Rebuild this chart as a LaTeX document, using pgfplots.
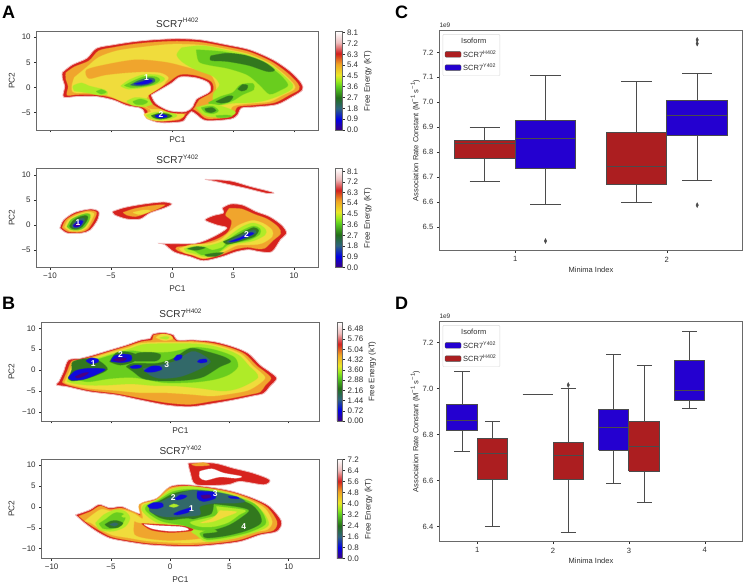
\documentclass[border=0pt]{standalone}
\usepackage{pgfplots}
\usepackage{fontspec}
\setmainfont{Liberation Sans}
\pgfplotsset{compat=1.18}
\definecolor{cP}{RGB}{240,190,190}
\definecolor{cR}{RGB}{215,35,30}
\definecolor{cO}{RGB}{240,165,45}
\definecolor{cY}{RGB}{240,220,60}
\definecolor{cL}{RGB}{175,235,40}
\definecolor{cG}{RGB}{105,205,30}
\definecolor{cD}{RGB}{50,120,30}
\definecolor{cS}{RGB}{50,105,105}
\definecolor{cB}{RGB}{15,10,220}
\definecolor{cI}{RGB}{75,0,130}
\definecolor{txt}{RGB}{45,45,45}
\definecolor{frm}{RGB}{105,105,105}
\definecolor{bxR}{RGB}{172,30,32}
\definecolor{bxB}{RGB}{36,0,208}
\definecolor{bxL}{RGB}{75,75,75}
\pgfplotsset{
 colormap={fe}{rgb255(0)=(60,0,130) rgb255(11)=(0,0,230) rgb255(22)=(45,100,125) rgb255(33)=(35,110,25) rgb255(44)=(90,205,30) rgb255(50)=(160,235,30) rgb255(56)=(235,230,40) rgb255(67)=(240,165,35) rgb255(78)=(210,30,30) rgb255(89)=(238,190,190) rgb255(100)=(255,255,255)},
 mapaxis/.style={scale only axis,axis on top,clip=true,
  axis line style={frm,line width=0.8pt},
  tick style={txt,line width=0.5pt},major tick length=2.5pt,tick align=outside,
  xtick pos=bottom,ytick pos=left,
  xtick={-10,-5,0,5,10},
  ticklabel style={font=\fontsize{8}{9}\selectfont,text=txt},
  title style={font=\fontsize{10}{11}\selectfont,text=txt,yshift=-5pt},
  ylabel={PC2},xlabel={PC1},
  label style={font=\fontsize{8.3}{9}\selectfont,text=txt},
  colormap name=fe,colorbar,point meta min=0,
  colorbar style={at={(parent axis.north east)},anchor=north west,xshift=9pt,width=6.5pt,
   axis line style={frm,line width=0.6pt},tick style={txt,line width=0.5pt},major tick length=2.5pt,
   yticklabel pos=right,ytick pos=right,tick align=outside,xtick=\empty,
   ylabel={Free Energy (kT)},
   ylabel style={font=\fontsize{8}{9}\selectfont,text=txt,anchor=south},
   yticklabel style={font=\fontsize{8}{9}\selectfont,text=txt,xshift=-1pt}},
 },
 boxaxis/.style={scale only axis,axis on top,clip=false,
  axis line style={frm,line width=0.9pt},
  tick style={txt,line width=0.5pt},major tick length=2.5pt,tick align=outside,
  xtick pos=bottom,ytick pos=left,
  ticklabel style={font=\fontsize{7.6}{9}\selectfont,text=txt},
  xlabel={Minima Index},
  ylabel={Association Rate Constant (M\raisebox{3.5pt}{\fontsize{6}{6}\selectfont −1} s\raisebox{3.5pt}{\fontsize{6}{6}\selectfont −1})},
  label style={font=\fontsize{7.5}{9}\selectfont,text=txt},
  ylabel style={at={(axis description cs:-0.052,0.5)},anchor=south},
  xlabel style={at={(axis description cs:0.5,-0.058)},anchor=north},
  yticklabel style={/pgf/number format/fixed,/pgf/number format/fixed zerofill,/pgf/number format/precision=1,/pgf/number format/assume math mode=true},
  xticklabel style={/pgf/number format/assume math mode=true},
  legend style={at={(0.011,0.984)},anchor=north west,draw=black!15,fill=white,rounded corners=1pt,
   font=\fontsize{7.5}{8}\selectfont,text=txt,row sep=1pt,inner sep=2pt},
  legend cell align=left,
  legend image code/.code={\draw[##1] (0pt,-2.8pt) rectangle (16pt,2.8pt);},
 },
 bxl/.style={forget plot,draw=bxL,line width=1pt,mark=none},
 bxo/.style={forget plot,only marks,mark=diamond*,mark size=2pt,mark options={fill=bxL,draw=bxL,xscale=0.8,yscale=1.2}},
}
\newcommand\SCR[3]{SCR7\raisebox{#3}{\fontsize{#2}{#2}\selectfont #1}}
\newcommand{\lev}[2]{\addplot[fill=#1,draw=#1,draw opacity=0.45,line width=1pt,smooth,mark=none,forget plot] coordinates {#2};}
\newcommand{\edge}[2]{\addplot[fill=#1,draw=cP,line width=0.8pt,smooth,mark=none,forget plot] coordinates {#2};}
\newcommand{\num}[3]{\node[text=white,font=\bfseries\fontsize{8.5}{9}\selectfont,inner sep=0pt] at (axis cs:#1,#2) {#3};}
% box position: left, centre, right, cap left, cap right
\newcommand{\bxat}[5]{\def\bxa{#1}\def\bxb{#2}\def\bxc{#3}\def\bxd{#4}\def\bxe{#5}}
% box values: colour, lower whisker, q1, median, q3, upper whisker
\newcommand{\bxv}[6]{%
 \addplot[bxl] coordinates {(\bxb,#2) (\bxb,#3)};
 \addplot[bxl] coordinates {(\bxb,#5) (\bxb,#6)};
 \addplot[bxl] coordinates {(\bxd,#2) (\bxe,#2)};
 \addplot[bxl] coordinates {(\bxd,#6) (\bxe,#6)};
 \addplot[bxl,fill=#1] coordinates {(\bxa,#3) (\bxc,#3) (\bxc,#5) (\bxa,#5) (\bxa,#3)};
 \addplot[bxl] coordinates {(\bxa,#4) (\bxc,#4)};
}
\begin{document}
\begin{tikzpicture}
\path[use as bounding box] (0,0) rectangle (744pt,583pt);
\node[anchor=base west,font=\bfseries\fontsize{18}{18}\selectfont,inner sep=0pt] at (2pt,564pt) {A};
\node[anchor=base west,font=\bfseries\fontsize{18}{18}\selectfont,inner sep=0pt] at (2pt,273pt) {B};
\node[anchor=base west,font=\bfseries\fontsize{18}{18}\selectfont,inner sep=0pt] at (395pt,564pt) {C};
\node[anchor=base west,font=\bfseries\fontsize{18}{18}\selectfont,inner sep=0pt] at (395pt,273pt) {D};
%% A1
\begin{axis}[mapaxis,at={(36.7pt,453pt)},anchor=south west,width=281.3pt,height=98.3pt,
 xmin=-11.09,xmax=11.97,ymin=-8.45,ymax=11.1,ytick={-5,0,5,10},yticklabels={−5,0,5,10},
 xticklabels={},title={\SCR{H402}{6.5}{4.5pt}},
 xlabel style={at={(axis description cs:0.5,-0.035)},anchor=north},
 ylabel style={at={(axis description cs:-0.066,0.5)},anchor=south},
 point meta max=8.18,
 colorbar style={ylabel style={at={(axis description cs:6.1,0.5)}},ytick={0,0.9,1.8,2.7,3.6,4.5,5.4,6.3,7.2,8.1},yticklabels={0.0,0.9,1.8,2.7,3.6,4.5,5.4,6.3,7.2,8.1}}]
\edge{cR}{(-9.0,3.0) (-8.2,4.5) (-7.0,5.8) (-6.2,7.8) (-4.8,8.5) (-3.2,9.1) (-1.5,9.5) (0.4,9.7) (2.3,9.5) (4.5,8.5) (6.4,7.5) (8.3,5.5) (9.7,3.2) (10.6,0.9) (10.7,-0.5) (9.9,-1.8) (8.6,-3.4) (6.7,-3.9) (5.7,-4.1) (5.4,-5.4) (4.8,-6.3) (2.8,-6.6) (2.0,-5.4) (1.6,-4.8) (1.2,-5.8) (0.8,-6.8) (-1.0,-7.0) (-2.1,-6.1) (-2.3,-4.8) (-2.6,-4.1) (-3.7,-3.6) (-4.8,-2.5) (-6.2,-1.8) (-7.8,-1.8) (-8.9,-1.9) (-8.8,0.2) (-9.0,1.9) (-9.0,3.0)}
\lev{cO}{(-8.7,2.9) (-8.0,4.1) (-6.8,5.3) (-6.0,7.3) (-4.7,8.0) (-3.2,8.6) (-1.5,9.0) (0.4,9.2) (2.3,9.0) (4.4,8.1) (6.3,7.1) (8.1,5.2) (9.4,3.0) (10.3,0.8) (10.4,-0.4) (9.6,-1.5) (8.4,-3.0) (6.6,-3.5) (5.4,-3.8) (5.1,-5.1) (4.6,-5.9) (2.9,-6.2) (2.2,-5.0) (1.6,-4.2) (1.0,-5.5) (0.6,-6.4) (-1.0,-6.6) (-1.9,-5.8) (-2.0,-4.6) (-2.6,-3.7) (-3.7,-3.2) (-4.8,-2.1) (-6.2,-1.4) (-7.8,-1.4) (-8.6,-1.5) (-8.5,0.2) (-8.7,1.7) (-8.7,2.9)}
\lev{cY}{(-8,2) (-7,4) (-6,6) (-4.5,7.3) (-2.5,8) (0,8.6) (2.5,8.4) (4.5,7.6) (6.3,6.6) (8,4.8) (9.2,2.6) (10,0.6) (10,-0.4) (9,-1.6) (8,-2.8) (6.2,-3.2) (5,-3.7) (4.7,-5) (4.2,-5.6) (3,-5.8) (2.4,-4.8) (2.5,-3.5) (1.5,-4) (0.5,-5) (0.4,-6.1) (-1,-6.3) (-1.7,-5.6) (-1.8,-4.3) (-2.8,-3.3) (-4,-2.8) (-5,-1.8) (-6.2,-1) (-8,-1) (-8.2,0.3) (-8,2)}
\lev{cO}{(-5.5,4.5) (-3,5.5) (-0.5,5) (1.5,3.8) (3,2.8) (3.5,1) (3.6,-1) (3.2,-3) (2.3,-4.2) (1.5,-3.8) (-1.8,-4.2) (-2,-2.0) (-0.5,1) (-1.8,3) (-3.5,3) (-5.5,2.5) (-6.8,1.8) (-7,3.5) (-5.5,4.5)}
\lev{cL}{(0.8,7.9) (2.5,8.3) (4.5,7.4) (6.3,6.4) (8,4.6) (9.1,2.5) (9.9,0.5) (9.7,-0.5) (8.8,-1.6) (7.6,-2.6) (6.4,-3) (5,-3.1) (4,-3.5) (3.4,-2.8) (3.4,-1.2) (3.9,0.5) (3.4,2.2) (2,3.5) (0.9,5) (0.4,6.5) (0.8,7.9)}
\lev{cG}{(2,7.5) (4.2,7.1) (6.2,6) (7.9,4.2) (8.9,2.4) (9.5,0.5) (8.9,-0.5) (8,-1.3) (7.2,0.5) (6.2,2.5) (4.6,3.8) (3,4.5) (2.2,5.2) (2,7.5)}
\lev{cD}{(3.2,6.3) (4.5,6.8) (6,6.4) (7.5,5.1) (8.4,3.5) (7.8,3.2) (6.3,4.4) (4.5,5.2) (3.2,5.4) (3.2,6.3)}
\lev{cG}{(3.0,-3.0) (4.0,-1.8) (5,-1.0) (5.6,0.5) (6.6,0.8) (6.7,-0.4) (5.8,-1.4) (5.0,-2.6) (4,-3.4) (3.2,-3.6) (3.0,-3.0)}
\lev{cD}{(3.6,-2.8) (4.6,-1.7) (5,-1.8) (4.7,-2.8) (4,-3.1) (3.6,-2.8)}
\lev{cD}{(5.4,-0.3) (5.8,0.6) (6.2,0.4) (6.1,-0.4) (5.7,-0.7) (5.4,-0.3)}
\lev{cL}{(2.0,-4.0) (3.2,-3.3) (4.4,-4) (5.2,-4.9) (4.7,-5.8) (3.5,-5.9) (2.6,-5.4) (2.0,-4.0)}
\lev{cG}{(2.4,-4.0) (3.3,-3.7) (3.8,-4.6) (3.4,-5.2) (2.7,-4.9) (2.4,-4.0)}
\lev{cD}{(2.7,-4.2) (3.3,-4.0) (3.6,-4.6) (3.2,-5.0) (2.8,-4.7) (2.7,-4.2)}
\lev{cG}{(3.6,-5.6) (4.5,-5.5) (4.9,-5.7) (4.3,-6) (3.7,-5.9) (3.6,-5.6)}
\lev{cL}{(-8,-0.7) (-8.1,0.3) (-7.4,0.9) (-6.8,0.3) (-5.5,-0.5) (-5.3,-1.3) (-6,-1.5) (-7,-1.0) (-8,-0.7)}
\lev{cG}{(-6.2,-0.8) (-5.8,-0.4) (-5.4,-0.9) (-5.8,-1.3) (-6.2,-0.8)}
\lev{cL}{(-3.7,-2.7) (-3,-2.0) (-2,-2.3) (-1.6,-3.2) (-2.3,-3.8) (-3.3,-3.5) (-3.7,-2.7)}
\lev{cG}{(-3.2,-2.8) (-2.6,-2.3) (-2,-2.8) (-2.4,-3.4) (-3,-3.3) (-3.2,-2.8)}
\lev{cY}{(-4.6,0.2) (-3.8,1.8) (-2.5,2.9) (-1,2.9) (-0.3,1.9) (-0.9,0.6) (-2.4,-0.4) (-3.8,-0.6) (-4.6,0.2)}
\lev{cL}{(-4.2,0.3) (-3.5,1.5) (-2.4,2.5) (-1.2,2.5) (-0.6,1.7) (-1.2,0.7) (-2.5,-0.1) (-3.6,-0.3) (-4.2,0.3)}
\lev{cG}{(-3.9,0.4) (-3.1,1.4) (-2.2,2.2) (-1.3,2.1) (-1,1.5) (-1.5,0.6) (-2.6,0.1) (-3.4,0) (-3.9,0.4)}
\lev{cS}{(-3.4,0.5) (-2.8,1.3) (-2,1.9) (-1.5,1.8) (-1.4,1.2) (-1.9,0.6) (-2.7,0.3) (-3.4,0.5)}
\lev{cB}{(-3.1,0.7) (-2.4,1.2) (-1.9,1.6) (-1.6,1.3) (-2,0.8) (-2.6,0.6) (-3.1,0.7)}
\lev{cY}{(-2.3,-5.3) (-1.6,-4.8) (-0.5,-4.7) (0.6,-4.8) (1.0,-5.6) (0.4,-6.3) (-1,-6.7) (-2,-6.2) (-2.3,-5.3)}
\lev{cL}{(-2.1,-5.5) (-1.3,-4.9) (-0.1,-5) (0.4,-5.6) (-0.1,-6.2) (-1,-6.5) (-1.8,-6.1) (-2.1,-5.5)}
\lev{cD}{(-1.7,-5.6) (-1,-5.1) (-0.3,-5.3) (0,-5.7) (-0.4,-6.1) (-1,-6.3) (-1.5,-6) (-1.7,-5.6)}
\lev{cB}{(-1.4,-5.6) (-0.9,-5.3) (-0.5,-5.5) (-0.4,-5.8) (-0.9,-6.1) (-1.3,-5.9) (-1.4,-5.6)}
\lev{cR}{(-1.9,-1.6) (-0.9,-0.1) (-0.2,1.1) (0.7,2.5) (2,2.3) (3.2,1.1) (3.3,-0.8) (2.2,-2.4) (1.8,-4) (1.1,-5.1) (-0.2,-4.9) (-1.5,-3.4) (-1.9,-1.6)}
\edge{white}{(-1.7,-1.5) (-0.7,-0.1) (0,0.9) (0.7,2.1) (2,1.9) (3,0.9) (3.1,-0.8) (2,-2.3) (1.7,-3.8) (1.1,-4.8) (-0.2,-4.6) (-1.3,-3.2) (-1.7,-1.5)}
\num{-2.1}{2.0}{1}\num{-0.9}{-5.3}{2}
\end{axis}
%% A2
\begin{axis}[mapaxis,at={(36.7pt,315.7pt)},anchor=south west,width=281.3pt,height=99pt,
 xmin=-11.09,xmax=11.97,ymin=-8.4,ymax=11.3,ytick={-5,0,5,10},yticklabels={−5,0,5,10},
 xticklabels={−10,−5,0,5,10},title={\SCR{Y402}{6.5}{4.5pt}},
 ylabel style={at={(axis description cs:-0.066,0.5)},anchor=south},
 point meta max=8.35,
 colorbar style={ylabel style={at={(axis description cs:6.1,0.5)}},ytick={0,0.9,1.8,2.7,3.6,4.5,5.4,6.3,7.2,8.1},yticklabels={0.0,0.9,1.8,2.7,3.6,4.5,5.4,6.3,7.2,8.1}}]
\edge{cR}{(-9.2,-0.6) (-8.9,1.0) (-8,2.5) (-6.7,3.2) (-6,2.7) (-6.1,1.0) (-6.7,-1) (-7.4,-1.6) (-8.6,-1.6) (-9.2,-0.6)}
\lev{cO}{(-9,-0.5) (-8.7,1) (-7.9,2.2) (-6.8,2.9) (-6.2,2.5) (-6.4,1) (-6.9,-0.8) (-7.5,-1.4) (-8.5,-1.3) (-9,-0.5)}
\lev{cY}{(-8.8,-0.4) (-8.5,1) (-7.8,2) (-6.9,2.6) (-6.4,2.3) (-6.6,1) (-7,-0.6) (-7.6,-1.2) (-8.4,-1.1) (-8.8,-0.4)}
\lev{cG}{(-8.6,-0.3) (-8.3,1) (-7.7,1.8) (-7,2.3) (-6.7,2) (-6.8,0.9) (-7.2,-0.5) (-7.7,-1) (-8.3,-0.9) (-8.6,-0.3)}
\lev{cD}{(-8.4,-0.2) (-8.1,0.9) (-7.6,1.6) (-7.1,1.9) (-6.9,1.6) (-7,0.8) (-7.4,-0.4) (-7.8,-0.8) (-8.2,-0.7) (-8.4,-0.2)}
\lev{cS}{(-8.2,-0.1) (-7.9,0.8) (-7.5,1.3) (-7.2,1.3) (-7.2,0.6) (-7.5,-0.3) (-7.8,-0.6) (-8.1,-0.5) (-8.2,-0.1)}
\lev{cB}{(-8.1,-0.1) (-7.8,0.6) (-7.5,0.9) (-7.3,0.7) (-7.5,-0.1) (-7.8,-0.4) (-8,-0.4) (-8.1,-0.1)}
\lev{cI}{(-8,-0.1) (-7.8,0.3) (-7.6,0.2) (-7.7,-0.2) (-8,-0.1)}
\edge{cR}{(-4.9,2.7) (-3.9,3.5) (-2.3,4.2) (-0.7,4.6) (0,4.2) (-0.6,3.4) (-1.8,2.4) (-2.6,1.2) (-3.7,1.2) (-4.7,2) (-4.9,2.7)}
\lev{cO}{(-4,2.5) (-3,3.3) (-1.5,3.9) (-0.6,4) (-1.3,3.1) (-2.3,2.2) (-3,1.7) (-3.7,2) (-4,2.5)}
\lev{cY}{(-3.2,2.5) (-2.3,3) (-1.8,2.8) (-2.6,2.1) (-3.2,2.5)}
\edge{cR}{(2.7,9.1) (3.9,9) (5,8.7) (6.4,7.7) (8.3,6.5) (7.8,6.3) (6.1,7.3) (4.8,8) (3.9,8.5) (2.7,9.1)}
\edge{cR}{(4.1,3.4) (4.8,4.2) (5.8,4.0) (6.9,2.7) (8,1.7) (9,0) (9.4,-1.6) (8.9,-2.9) (8.2,-5.3) (7.2,-5.3) (6.3,-4.9) (5.3,-5.3) (4.1,-6.3) (2.6,-7.1) (1.5,-6.3) (0.2,-5.4) (-0.6,-3.9) (-1.1,-3.6) (0.1,-3.7) (2,-3.6) (3.4,-2.3) (4.5,-0.6) (3.7,0) (2.7,1) (3.4,1.9) (4.2,2.4) (4.1,3.4)}
\lev{cO}{(4.7,3.3) (5.7,3.2) (6.8,2.1) (7.8,1.2) (8.7,-0.4) (8.9,-1.7) (8.3,-3) (7.6,-4.6) (7,-4.7) (6.2,-4.4) (5.2,-4.8) (4,-5.9) (2.6,-6.7) (1.6,-5.9) (0.5,-5.1) (0.4,-4.4) (2,-4) (3.6,-2.9) (4.6,-1.4) (4.9,0.8) (4.4,2) (4.7,3.3)}
\lev{cY}{(0.6,-4.7) (1.6,-3.9) (3,-3.7) (4,-2.9) (4.7,-1.4) (5.5,0) (6.6,0.9) (7.5,0.3) (8.2,-1) (8.2,-2.3) (7.4,-3.6) (6.6,-3.9) (5.4,-4) (4.5,-5) (3.6,-6) (2.6,-6.6) (1.8,-6) (1,-5.5) (0.6,-4.7)}
\lev{cL}{(1,-4.7) (1.8,-4.2) (3,-4.1) (4.1,-3.3) (5,-1.6) (5.8,-0.3) (6.6,0.4) (7.3,-0.1) (7.7,-1) (7.6,-2) (6.7,-3.1) (5.6,-3.6) (4.8,-4) (4,-5.3) (3.4,-6.1) (2.6,-6.3) (1.9,-5.7) (1.2,-5.3) (1,-4.7)}
\lev{cG}{(1.2,-4.7) (2,-4.4) (2.8,-4.5) (3.3,-5) (4.2,-4.4) (4.5,-3.3) (5.2,-1.9) (6,-0.8) (6.7,-0.2) (7.2,-0.7) (7.2,-1.8) (6.4,-2.9) (5.4,-3.4) (4.7,-3.7) (3.8,-5.4) (3.2,-5.9) (2.4,-5.9) (1.9,-5.2) (1.2,-4.7)}
\lev{cD}{(1.3,-4.7) (2,-4.3) (2.7,-4.5) (2,-5) (1.3,-4.7)}
\lev{cD}{(2.7,-5.9) (3.4,-5.6) (4.2,-5.5) (3.6,-6.2) (2.9,-6.2) (2.7,-5.9)}
\lev{cD}{(4.2,-3.3) (5.3,-2.1) (6.1,-1.1) (6.7,-0.5) (7.1,-1) (6.8,-2.2) (6,-2.9) (5,-3.6) (4.5,-3.8) (4.2,-3.3)}
\lev{cS}{(4.5,-3.3) (5.4,-2.3) (6.2,-1.4) (6.7,-1) (6.9,-1.5) (6.1,-2.5) (5.1,-3.3) (4.7,-3.5) (4.5,-3.3)}
\lev{cB}{(4.7,-3.3) (5.6,-2.5) (6.4,-1.5) (6.7,-1.7) (6.1,-2.4) (5.2,-3.2) (4.7,-3.3)}
\num{-7.7}{0.5}{1}\num{6.1}{-1.8}{2}
\end{axis}
%% B1
\begin{axis}[mapaxis,at={(41.7pt,162pt)},anchor=south west,width=277.6pt,height=98.7pt,
 xmin=-10.84,xmax=12.58,ymin=-12.2,ymax=11.44,ytick={-10,-5,0,5,10},yticklabels={−10,−5,0,5,10},
 xticklabels={},title={\SCR{H402}{6.5}{4.5pt}},
 xlabel style={at={(axis description cs:0.5,-0.035)},anchor=north},
 ylabel style={at={(axis description cs:-0.085,0.5)},anchor=south},
 point meta max=6.95,
 colorbar style={width=5.8pt,ylabel style={at={(axis description cs:7.35,0.5)}},ytick={0,0.72,1.44,2.16,2.88,3.6,4.32,5.04,5.76,6.48},yticklabels={0.00,0.72,1.44,2.16,2.88,3.60,4.32,5.04,5.76,6.48}}]
\edge{cR}{(-9.4,-2.8) (-9.0,-0.4) (-8.6,2.4) (-7.6,2.8) (-6.5,3.6) (-5.1,4.8) (-3.7,6) (-2.5,7.2) (-1.7,7.6) (-1.5,8.6) (-0.6,9) (0.3,8.4) (0.6,7.2) (2,7.2) (3.7,6.8) (5.3,5.6) (6.6,4) (7.6,1.2) (8.4,-0.4) (9,-2) (8.4,-4) (7.9,-5.6) (7,-6.2) (5.3,-7.2) (3.7,-8) (1.7,-8.8) (-0.3,-8.4) (-2.5,-7.2) (-4.5,-6) (-6.8,-5.2) (-8.7,-4) (-9.6,-3.6) (-9.4,-2.8)}
\lev{cO}{(-9.1,-2.9) (-8.7,-0.4) (-8.3,2.1) (-7.5,2.5) (-6.4,3.3) (-5,4.5) (-3.6,5.7) (-2.4,6.8) (-1.5,7.2) (-1.4,8.3) (-0.6,8.6) (0.1,8.1) (0.5,6.9) (2,6.9) (3.6,6.4) (5.1,5.3) (6.3,3.8) (7.3,1) (8,-0.5) (8.5,-2) (8,-3.7) (7.6,-5.2) (6.8,-5.8) (5.2,-6.7) (3.6,-7.4) (1.7,-8.2) (-0.3,-7.8) (-2.5,-6.7) (-4.5,-5.6) (-6.8,-4.8) (-8.6,-3.6) (-9.1,-2.9)}
\lev{cY}{(-8.9,-2.9) (-8.5,-0.4) (-8.1,1.9) (-7.4,2.3) (-6.3,3.1) (-4.9,4.3) (-3.5,5.4) (-2.2,6.5) (1.9,6.6) (3.6,6.1) (5,5) (6.1,3.6) (7,0.9) (7.6,-0.5) (8,-1.9) (7.4,-3.5) (6.5,-4.9) (5,-5.7) (3.5,-6.2) (1.7,-5.8) (-0.5,-5.4) (-2.5,-5.4) (-4.5,-4.9) (-6.8,-4.4) (-8.5,-3.4) (-8.9,-2.9)}
\lev{cL}{(-8.7,-2.7) (-8.3,-0.4) (-7.9,1.7) (-7.3,2) (-6.2,2.8) (-4.8,4) (-3.4,5.1) (-2,6.2) (1.8,6.3) (3.5,5.8) (4.9,4.7) (5.9,3.3) (6.7,0.8) (7.2,-0.5) (7.4,-1.8) (6.6,-3.3) (5.6,-4.5) (4.4,-5) (2.4,-4.3) (0.5,-3.8) (-1.4,-3.7) (-3.3,-3.3) (-5.4,-3.6) (-7,-3.6) (-8.3,-3.1) (-8.7,-2.7)}
\lev{cG}{(-8.2,-1.8) (-8,-0.3) (-7.6,1.6) (-6.2,2.5) (-4.8,3.7) (-3.4,4.6) (-2,4.2) (0,4.3) (2,5.4) (3.5,5) (4.8,3.9) (5.5,2.8) (5.7,0.8) (5,-1) (3.8,-2.2) (2,-2.9) (-0.5,-3.0) (-3,-1.8) (-5,-2) (-7,-2.8) (-8.2,-1.8)}
\lev{cY}{(-1.2,7.8) (-0.7,8.6) (0,8.3) (0.2,7.5) (-0.5,7.1) (-1.2,7.8)}
\lev{cL}{(-0.9,7.7) (-0.5,8) (-0.1,7.9) (-0.3,7.4) (-0.9,7.7)}
\lev{cD}{(-3.7,0.8) (-3.1,1.6) (-1.1,1.6) (0.3,2.8) (1.7,5.2) (3.1,4.4) (4.5,3.2) (5.1,2) (4.2,0.8) (2.8,-1.6) (1.4,-2.4) (-0.8,-2.6) (-2.3,-2) (-3.1,-0.4) (-3.7,0.8)}
\lev{cD}{(-3.2,2.2) (-2.8,4) (-1.5,4.2) (-0.8,3.6) (-1.2,2.2) (-3.2,2.2)}
\lev{cS}{(-2.3,0.4) (-0.8,1.2) (0.3,2) (0.8,2.8) (1.8,4.4) (2.5,4) (3.4,2) (2.3,0) (0.8,-1.6) (-0.8,-2) (-1.7,-1.2) (-2.3,0.4)}
\lev{cB}{(-3.4,0.8) (-2.9,1.2) (-2.4,1) (-2.6,0.5) (-3.2,0.4) (-3.4,0.8)}
\lev{cB}{(-2.2,-0.2) (-1.6,0.9) (-0.9,0.9) (-0.7,0.2) (-1.3,-0.4) (-1.9,-0.5) (-2.2,-0.2)}
\lev{cB}{(0.3,2.6) (0.6,3.6) (1,3.5) (0.9,2.7) (0.5,2.3) (0.3,2.6)}
\lev{cB}{(2.3,2.0) (2.5,2.5) (3,2.6) (3.1,2) (2.6,1.7) (2.3,2.0)}
\lev{cD}{(-8.6,-2) (-8.3,0) (-8.2,2) (-6.8,2.8) (-5.9,2) (-5.3,0.2) (-6.2,-1.2) (-7.3,-2.2) (-8.3,-2.6) (-8.6,-2)}
\lev{cB}{(-8.6,-1.8) (-8,-0.2) (-6.9,0.4) (-5.5,0.2) (-6.2,-1) (-7.3,-2.2) (-8.3,-2.4) (-8.6,-1.8)}
\lev{cI}{(-8,-1.6) (-7.4,-0.8) (-6.9,-0.6) (-7.2,-1.3) (-7.8,-1.9) (-8,-1.6)}
\lev{cB}{(-7.1,2.2) (-6.7,2.9) (-6.1,2.6) (-6.1,1.9) (-6.7,1.5) (-7.1,2.2)}
\lev{cD}{(-5.1,2) (-4.6,4) (-3.8,4.4) (-2.8,3.6) (-3.1,2) (-4.2,1.2) (-5.1,2)}
\lev{cB}{(-5.0,2.1) (-4.7,3.4) (-3.9,3.8) (-3.3,3.5) (-3.3,2.3) (-4.1,1.8) (-5.0,2.1)}
\lev{cI}{(-4.8,2.4) (-4.4,2.9) (-3.7,2.8) (-3.9,2.2) (-4.4,2.1) (-4.8,2.4)}
\num{-6.5}{1.5}{1}\num{-4.2}{3.6}{2}\num{-0.3}{1.2}{3}
\end{axis}
%% B2
\begin{axis}[mapaxis,at={(41.7pt,24.7pt)},anchor=south west,width=277.6pt,height=99pt,
 xmin=-10.84,xmax=12.58,ymin=-12.3,ymax=11.4,ytick={-10,-5,0,5,10},yticklabels={−10,−5,0,5,10},
 xticklabels={−10,−5,0,5,10},title={\SCR{Y402}{6.5}{4.5pt}},
 ylabel style={at={(axis description cs:-0.085,0.5)},anchor=south},
 point meta max=7.2,
 colorbar style={width=5.8pt,ylabel style={at={(axis description cs:6.7,0.5)}},ytick={0,0.8,1.6,2.4,3.2,4,4.8,5.6,6.4,7.2},yticklabels={0.0,0.8,1.6,2.4,3.2,4.0,4.8,5.6,6.4,7.2}}]
\edge{cR}{(1.5,10.5) (3.7,10.5) (5.3,9.3) (7,8.1) (8.4,6.5) (7.9,5.3) (5.9,6.1) (4.8,5.3) (2.2,5.3) (1.7,8.1) (1.5,10.5)}
\lev{white}{(2.5,8.5) (3.5,9.1) (4.5,8.1) (6,7.3) (5.5,6.9) (4.2,7.2) (3,6.4) (2.5,7.1) (2.5,8.5)}
\lev{cO}{(1.8,10.2) (2.8,10.6) (3.3,10) (2.2,9.8) (1.8,10.2)}
\edge{cR}{(-8,-1.9) (-6.8,-0.7) (-6,0.6) (-5.1,-0.2) (-4.1,0.1) (-3.2,-1) (-2.5,-1.5) (-2.4,0.9) (-1.1,2.1) (0,4.9) (1.4,5.3) (3.7,4.6) (5.3,3.7) (7,2.1) (8.4,0.1) (9.4,-3.5) (9,-5.9) (7.6,-6.7) (5.9,-8.3) (3.7,-9.1) (1.4,-9.5) (-1.7,-9.1) (-3.7,-8.3) (-5.1,-7.5) (-6.2,-5.9) (-7.2,-3.9) (-8,-1.9)}
\lev{cO}{(-7.7,-2.2) (-6.7,-1.1) (-5.9,0.2) (-5.1,-0.6) (-4.1,-0.3) (-3,-1.3) (-2.5,-2) (-2.6,0.6) (-1.2,1.8) (-0.1,4.5) (1.4,5) (3.7,4.3) (5.3,3.4) (6.9,1.8) (8.2,-0.2) (9,-3.5) (8.7,-5.6) (7.4,-6.4) (5.8,-7.9) (3.7,-8.7) (1.4,-9.1) (-1.7,-8.7) (-3.7,-7.9) (-5,-7.1) (-6,-5.6) (-7,-3.8) (-7.7,-2.2)}
\lev{cY}{(-7.2,-3.4) (-6.5,-1.8) (-5.8,-0.6) (-5,-1) (-4,-0.7) (-3,-1.7) (-2.3,-2.8) (-2.4,0.5) (-1.1,1.6) (0,4.2) (1.4,4.7) (3.7,4) (5.3,3.1) (6.8,1.5) (8,-0.4) (8.6,-3.5) (8.2,-5.4) (7.1,-6) (5.6,-7.4) (3.7,-8.2) (1.4,-8.6) (-1.7,-8.2) (-3.5,-7.4) (-4.9,-6.7) (-5.9,-5.3) (-6.7,-3.8) (-7.2,-3.4)}
\lev{cO}{(-3,-3.5) (-2.3,-4) (1.5,-4.5) (2.5,-6) (2.5,-7.5) (0,-8) (-2,-7.5) (-3,-6.5) (-3,-3.5)}
\lev{cR}{(-2.4,-4) (-1,-4.2) (1.2,-4.5) (1.9,-5.6) (0,-6.1) (-1.6,-5.5) (-2.4,-4)}
\lev{white}{(-2.2,-4.2) (-1,-4.5) (1,-4.8) (1.5,-5.5) (0,-5.8) (-1.5,-5.2) (-2.2,-4.2)}
\lev{cL}{(-2.2,0.5) (-1.1,1.7) (0.1,4.1) (1.5,4.9) (3.7,4.1) (5.3,2.9) (6.8,1.3) (7.9,-1.5) (8.3,-4.3) (7.3,-5.9) (5.3,-7.5) (3.1,-8.3) (2.2,-6.7) (1.8,-5.9) (2.3,-5) (1,-4.4) (-0.9,-3.9) (-1.8,-2.5) (-2.4,-0.7) (-2.2,0.5)}
\lev{cG}{(-1.9,0.5) (-1,1.6) (0.2,3.6) (1.6,4.2) (3.7,3.7) (5.3,2.6) (7.1,0.7) (7.9,-2) (8,-4.2) (6.7,-6) (4.9,-7.2) (3.1,-7.8) (2.5,-6.4) (3,-5.5) (1.7,-4.6) (-0.5,-3.6) (-1.5,-2.2) (-2.1,-0.6) (-1.9,0.5)}
\lev{cD}{(-1.6,0.5) (-0.9,1.4) (0.3,3.2) (1.7,3.9) (3.7,3.4) (5.3,2.3) (6.9,0.4) (7.6,-2) (7.6,-4) (6.4,-5.7) (4.7,-6.9) (3.1,-7.4) (2.8,-6.5) (4,-5.8) (1.8,-2.8) (0,-3.1) (-1,-2.4) (-1.7,-0.8) (-1.6,0.5)}
\lev{cS}{(-1.7,0.5) (-0.8,1.2) (0.5,2.9) (1.9,4) (3.7,3.6) (5.5,2.5) (6.3,1.3) (5.3,0.9) (3.8,0.9) (2.5,0.1) (2.5,-1.9) (0.8,-2.3) (-0.6,-2.3) (-1.7,-1.1) (-1.7,0.5)}
\lev{cG}{(3.7,0.6) (5.5,0) (6.6,-0.8) (6.1,-2.2) (5,-4.2) (3.7,-5.4) (2.4,-5.5) (1,-4) (2.5,-2.6) (3.5,-1.7) (3.7,0.6)}
\lev{cL}{(3.9,0.1) (6.3,-0.8) (5.8,-1.9) (4.9,-3.7) (3.7,-4.7) (2.5,-4.7) (1.7,-3.7) (3.1,-2.7) (4,-1.9) (3.9,0.1)}
\lev{cY}{(4.2,-0.9) (5.6,-1.2) (4.6,-2.4) (3.6,-3.5) (2.6,-3.8) (3.6,-2.7) (4.2,-0.9)}
\lev{cB}{(-1.9,0.3) (-1.4,1) (-0.7,0.9) (-0.6,0.1) (-1.1,-0.4) (-1.7,-0.3) (-1.9,0.3)}
\lev{cB}{(0.3,-1.7) (0.8,-1) (1.8,-0.2) (1.5,-1.3) (0.6,-1.9) (0.3,-1.7)}
\lev{cB}{(0.4,2.0) (0.9,2.9) (1.4,2.6) (1.1,2) (0.6,1.7) (0.4,2.0)}
\lev{cB}{(2.3,3.7) (3.7,3.5) (3.8,2.1) (2.8,1.3) (2.3,2.1) (2.3,3.7)}
\lev{cI}{(2.6,2.7) (3.3,2.9) (3.4,2.3) (2.8,2) (2.6,2.7)}
\lev{cB}{(4.9,2.5) (5.6,2.4) (5.8,2) (5.1,2.1) (4.9,2.5)}
\lev{cL}{(-0.1,0.2) (0.3,0.7) (0.7,0.3) (0.3,-0.1) (-0.1,0.2)}
\lev{cL}{(-6.3,-3.9) (-5.6,-1.9) (-4.6,-0.7) (-3.8,-1.1) (-3.4,-2.7) (-3.8,-4.7) (-4.8,-5.8) (-5.9,-5.5) (-6.3,-3.9)}
\lev{cG}{(-6,-4) (-5.4,-2.9) (-5,-2) (-4.6,-1.4) (-4,-1.6) (-3.8,-2.7) (-4.2,-4.5) (-5,-5.3) (-5.7,-5.1) (-6,-4)}
\lev{cD}{(-5.5,-4.2) (-5,-3.4) (-4.5,-3.3) (-4,-3.9) (-4.4,-4.9) (-5.1,-5) (-5.5,-4.2)}
\lev{cS}{(-5.1,-4.2) (-4.7,-3.8) (-4.4,-4.1) (-4.7,-4.6) (-5.1,-4.2)}
\lev{cL}{(-4.1,-2.2) (-3.8,-1.7) (-3.5,-2.1) (-3.9,-2.5) (-4.1,-2.2)}
\num{1.8}{-0.4}{1}\num{0.25}{2.2}{2}\num{3.8}{3.1}{3}\num{6.2}{-4.6}{4}
\end{axis}
%% C
\begin{axis}[boxaxis,at={(439.3pt,332.3pt)},anchor=south west,width=303.4pt,height=220pt,
 xmin=0.5,xmax=2.5,ymin=6.404,ymax=7.287,xtick={1,2},ytick={6.5,6.6,6.7,6.8,6.9,7.0,7.1,7.2}]
\addlegendimage{empty legend}\addlegendentry{\hspace*{-2pt}Isoform}
\addlegendimage{fill=bxR,draw=bxL}\addlegendentry{\SCR{H402}{5.3}{3pt}}
\addlegendimage{fill=bxB,draw=bxL}\addlegendentry{\SCR{Y402}{5.3}{3pt}}
\bxat{0.6}{0.8}{1.0}{0.7}{0.9}\bxv{bxR}{6.68}{6.775}{6.835}{6.845}{6.897}
\bxat{1.0}{1.2}{1.4}{1.1}{1.3}\bxv{bxB}{6.588}{6.735}{6.856}{6.927}{7.107}
\addplot[bxo] coordinates {(1.2,6.443)};
\bxat{1.6}{1.8}{2.0}{1.7}{1.9}\bxv{bxR}{6.597}{6.668}{6.742}{6.877}{7.085}
\bxat{2.0}{2.2}{2.4}{2.1}{2.3}\bxv{bxB}{6.685}{6.868}{6.947}{7.005}{7.115}
\addplot[bxo] coordinates {(2.2,7.235) (2.2,7.25) (2.2,6.587)};
\node[anchor=south west,font=\fontsize{6.5}{7}\selectfont,text=txt,inner sep=0pt] at (rel axis cs:0,1.012) {1e9};
\end{axis}
%% D
\begin{axis}[boxaxis,at={(439.3pt,41.3pt)},anchor=south west,width=303.4pt,height=220pt,
 xmin=0.5,xmax=4.5,ymin=6.335,ymax=7.29,xtick={1,2,3,4},ytick={6.4,6.6,6.8,7.0,7.2}]
\addlegendimage{empty legend}\addlegendentry{\hspace*{-2pt}Isoform}
\addlegendimage{fill=bxB,draw=bxL}\addlegendentry{\SCR{Y402}{5.3}{3pt}}
\addlegendimage{fill=bxR,draw=bxL}\addlegendentry{\SCR{H402}{5.3}{3pt}}
\bxat{0.6}{0.8}{1.0}{0.7}{0.9}\bxv{bxB}{6.725}{6.817}{6.86}{6.93}{7.075}
\bxat{1.0}{1.2}{1.4}{1.1}{1.3}\bxv{bxR}{6.40}{6.605}{6.717}{6.785}{6.855}
\addplot[bxl] coordinates {(1.6,6.972) (2.0,6.972)};
\bxat{2.0}{2.2}{2.4}{2.1}{2.3}\bxv{bxR}{6.377}{6.605}{6.708}{6.765}{6.998}
\addplot[bxo] coordinates {(2.2,7.015)};
\bxat{2.6}{2.8}{3.0}{2.7}{2.9}\bxv{bxB}{6.586}{6.733}{6.83}{6.91}{7.147}
\bxat{3.0}{3.2}{3.4}{3.1}{3.3}\bxv{bxR}{6.503}{6.64}{6.75}{6.857}{7.098}
\bxat{3.6}{3.8}{4.0}{3.7}{3.9}\bxv{bxB}{6.912}{6.95}{6.99}{7.12}{7.247}
\node[anchor=south west,font=\fontsize{6.5}{7}\selectfont,text=txt,inner sep=0pt] at (rel axis cs:0,1.012) {1e9};
\end{axis}
\end{tikzpicture}
\end{document}
